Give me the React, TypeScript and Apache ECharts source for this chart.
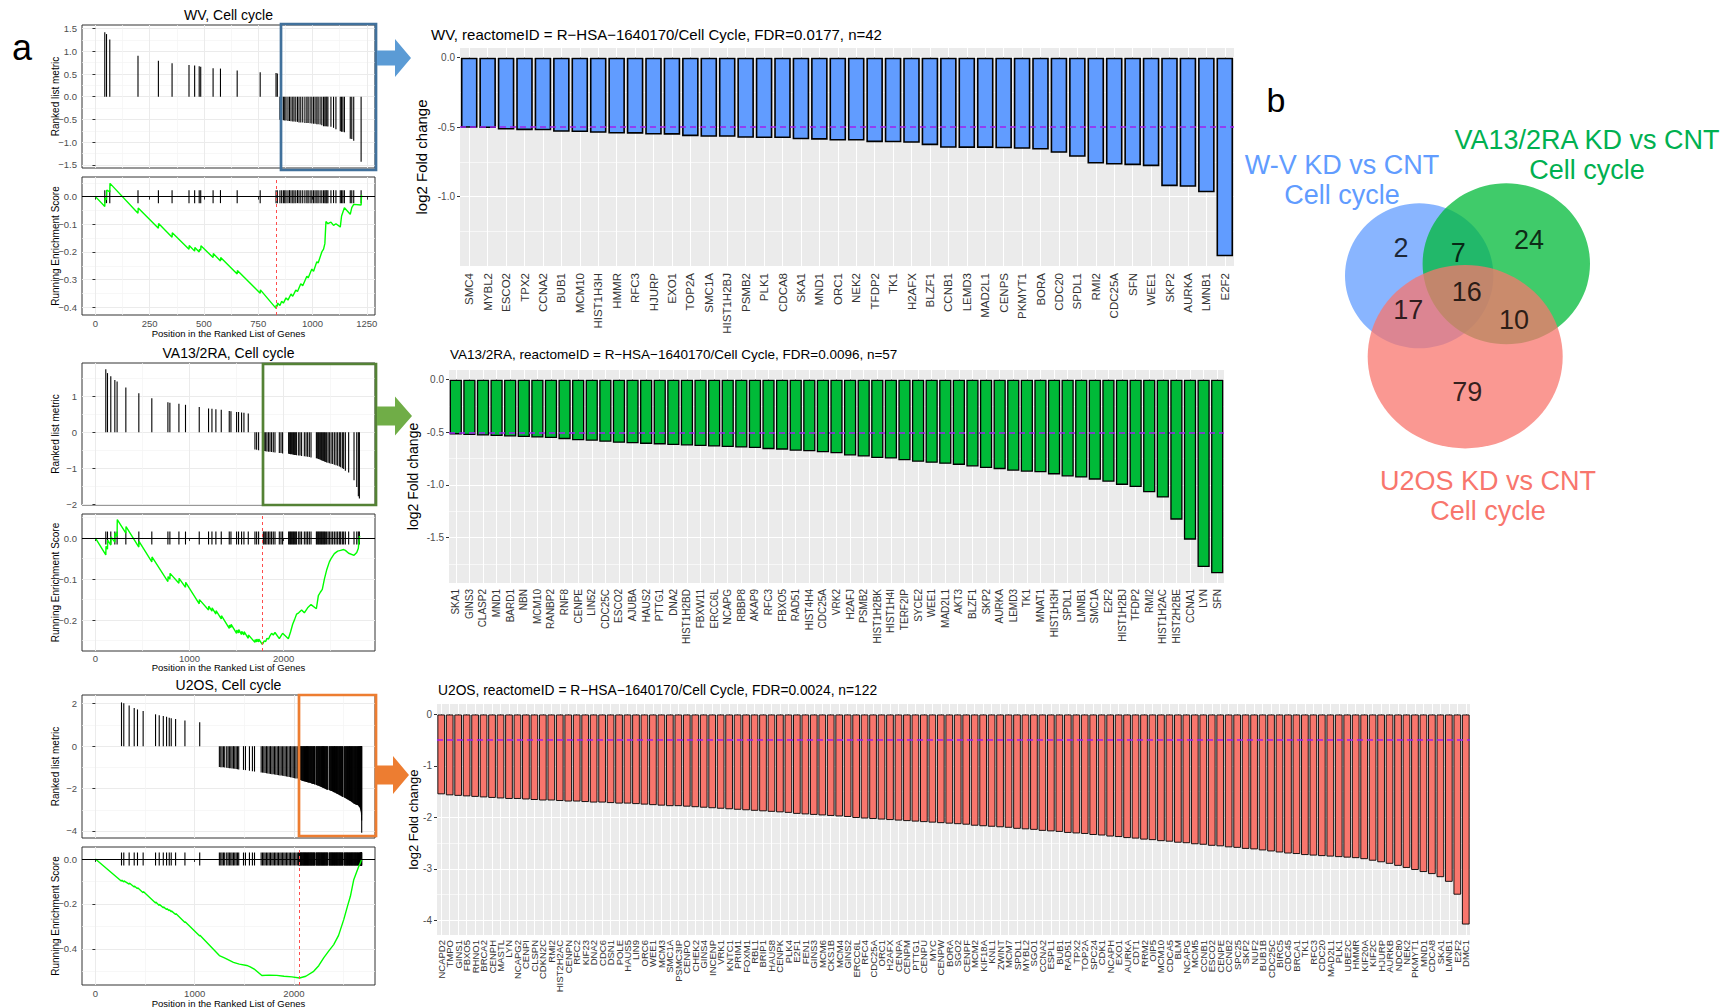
import React, { useEffect, useRef } from "react";
import * as echarts from "echarts";

const FONT = "'Liberation Sans', Arial, Helvetica, sans-serif";

// ================= Bar chart data =================
const WV_TITLE = "WV, reactomeID = R\u2212HSA\u22121640170/Cell Cycle, FDR=0.0177, n=42";
const VA_TITLE = "VA13/2RA, reactomeID = R\u2212HSA\u22121640170/Cell Cycle, FDR=0.0096, n=57";
const U2_TITLE = "U2OS, reactomeID = R\u2212HSA\u22121640170/Cell Cycle, FDR=0.0024, n=122";

const WV_GENES = ["SMC4","MYBL2","ESCO2","TPX2","CCNA2","BUB1","MCM10","HIST1H3H","HMMR","RFC3","HJURP","EXO1","TOP2A","SMC1A","HIST1H2BJ","PSMB2","PLK1","CDCA8","SKA1","MND1","ORC1","NEK2","TFDP2","TK1","H2AFX","BLZF1","CCNB1","LEMD3","MAD2L1","CENPS","PKMYT1","BORA","CDC20","SPDL1","RMI2","CDC25A","SFN","WEE1","SKP2","AURKA","LMNB1","E2F2"];
const WV_LFC = [-0.505,-0.507,-0.517,-0.522,-0.523,-0.534,-0.535,-0.541,-0.546,-0.547,-0.553,-0.554,-0.565,-0.569,-0.57,-0.577,-0.578,-0.578,-0.587,-0.59,-0.596,-0.597,-0.608,-0.609,-0.613,-0.63,-0.649,-0.65,-0.65,-0.652,-0.656,-0.661,-0.685,-0.714,-0.762,-0.769,-0.774,-0.781,-0.925,-0.93,-0.969,-1.43];

const VA_GENES = ["SKA1","GINS3","CLASP2","MND1","BARD1","NBN","MCM10","RANBP2","RNF8","CENPE","LIN52","CDC25C","ESCO2","AJUBA","HAUS2","PTTG1","DNA2","HIST1H2BD","FBXW11","ERCC6L","NCAPG","RBBP8","AKAP9","RFC3","FBXO5","RAD51","HIST4H4","CDC25A","VRK2","H2AFJ","PSMB2","HIST1H2BK","HIST1H4I","TERF2IP","SYCE2","WEE1","MAD2L1","AKT3","BLZF1","SKP2","AURKA","LEMD3","TK1","MNAT1","HIST1H3H","SPDL1","LMNB1","SMC1A","E2F2","HIST1H2BJ","TFDP2","RMI2","HIST1H2AC","HIST2H2BE","CCNA1","LYN","SFN"];
const VA_LFC = [-0.52,-0.525,-0.53,-0.535,-0.54,-0.545,-0.55,-0.555,-0.565,-0.575,-0.58,-0.59,-0.6,-0.605,-0.61,-0.615,-0.62,-0.625,-0.63,-0.635,-0.64,-0.645,-0.65,-0.66,-0.665,-0.675,-0.68,-0.69,-0.7,-0.72,-0.73,-0.745,-0.75,-0.765,-0.78,-0.79,-0.8,-0.81,-0.825,-0.84,-0.85,-0.865,-0.875,-0.88,-0.9,-0.92,-0.93,-0.95,-0.97,-1.0,-1.02,-1.07,-1.12,-1.33,-1.52,-1.78,-1.84];

const U2_GENES = ["NCAPD2","TMPO","GINS1","FBXO5","RHNO1","BRCA2","CENPH","MASTL","LYN","NCAPG2","CENPI","CLSPN","CDKN2C","RMI2","HIST2H2AC","CENPN","RFC2","KIF23","DNA2","CDC6","DSN1","POLE","HAUS5","LIN9","ORC6","WEE1","MCM3","SMC1A","PSMC3IP","CENPO","CHEK2","GINS4","INCENP","VRK1","KNTC1","PRIM1","FOXM1","RBL1","BRIP1","HAUS8","CENPK","PLK4","E2F1","FEN1","GINS3","MCM6","CKS1B","MCM4","GINS2","ERCC6L","RFC4","CDC25A","ORC1","H2AFX","CENPA","CENPM","PTTG1","CENPU","MYC","CENPW","BORA","SGO2","CENPF","MCM2","KIF18A","KNL1","ZWINT","MCM7","SPDL1","MYBL2","SGO1","CCNA2","ESPL1","BUB1","RAD51","TPX2","TOP2A","SPC24","CDK1","NCAPH","EXO1","AURKA","CDT1","RRM2","OIP5","MCM10","CDCA5","BLM","NCAPG","MCM5","CCNB1","ESCO2","CENPE","CCNB2","SPC25","SKP2","NUF2","BUB1B","CDC25C","BIRC5","CDC45","BRCA1","TK1","RFC3","CDC20","MAD2L1","PLK1","UBE2C","HMMR","KIF20A","KIF2C","HJURP","AURKB","NDC80","NEK2","PKMYT1","MND1","CDCA8","SKA1","LMNB1","E2F2","DMC1"];
const U2_LFC = [-1.55,-1.57,-1.58,-1.59,-1.6,-1.61,-1.62,-1.63,-1.64,-1.64,
-1.65,-1.66,-1.67,-1.67,-1.68,-1.69,-1.69,-1.7,-1.71,-1.71,
-1.72,-1.73,-1.73,-1.74,-1.75,-1.76,-1.77,-1.78,-1.78,-1.79,
-1.8,-1.81,-1.82,-1.83,-1.84,-1.85,-1.86,-1.87,-1.88,-1.89,
-1.9,-1.91,-1.93,-1.94,-1.95,-1.96,-1.97,-1.98,-1.99,-2.01,
-2.02,-2.03,-2.04,-2.05,-2.06,-2.07,-2.08,-2.09,-2.1,-2.11,
-2.12,-2.13,-2.14,-2.16,-2.17,-2.18,-2.19,-2.2,-2.22,-2.23,
-2.24,-2.26,-2.27,-2.28,-2.3,-2.31,-2.32,-2.34,-2.35,-2.37,
-2.38,-2.4,-2.41,-2.43,-2.44,-2.46,-2.47,-2.49,-2.5,-2.52,
-2.53,-2.55,-2.56,-2.58,-2.59,-2.61,-2.62,-2.64,-2.66,-2.68,
-2.7,-2.71,-2.73,-2.74,-2.75,-2.76,-2.77,-2.78,-2.79,-2.81,
-2.84,-2.87,-2.9,-2.94,-2.98,-3.02,-3.06,-3.1,-3.16,-3.25,
-3.5,-4.08];

// ================= GSEA data (positions in ranked list, metric) =================
const WV_UP_POS = [43,51,66,196,290,353,431,457,478,485,542,576,653,759,832,838];
const WV_UP_METRIC = [1.42,1.38,1.26,0.9,0.79,0.74,0.7,0.69,0.67,0.66,0.63,0.62,0.58,0.54,0.52,0.51];
const WV_DOWN_POS = [850,858,866,872,878,887,894,901,909,915,923,931,938,946,955,965,974,980,989,997,1005,1012,1020,1026,1035,1043,1051,1057,1062,1066,1071,1085,1097,1108,1128,1134,1140,1147,1174,1181,1190,1224];
const WV_ES = [[0,0],[43,-0.036],[44,-0.005],[51,-0.011],[52,0.024],[66,0.017],[67,0.048],[196,-0.06],[197,-0.041],[290,-0.114],[291,-0.097],[353,-0.147],[354,-0.131],[431,-0.19],[432,-0.177],[457,-0.197],[458,-0.184],[478,-0.2],[479,-0.19],[485,-0.194],[486,-0.178],[542,-0.22],[543,-0.206],[576,-0.233],[577,-0.22],[653,-0.28],[654,-0.267],[759,-0.349],[760,-0.337],[832,-0.404],[833,-0.392],[838,-0.397],[839,-0.385],[850,-0.394],[858,-0.378],[866,-0.385],[878,-0.366],[887,-0.374],[901,-0.352],[909,-0.36],[923,-0.338],[931,-0.343],[946,-0.315],[955,-0.322],[974,-0.288],[980,-0.294],[997,-0.262],[1005,-0.27],[1020,-0.235],[1026,-0.24],[1043,-0.2],[1051,-0.19],[1057,-0.17],[1062,-0.09],[1071,-0.098],[1085,-0.092],[1097,-0.104],[1108,-0.098],[1128,-0.11],[1134,-0.07],[1147,-0.04],[1174,-0.064],[1181,-0.04],[1190,-0.028],[1224,-0.03],[1226,0.006]];

const VA_UP_POS = [110,128,163,206,230,323,461,599,770,791,887,957,1103,1202,1238,1280,1337,1422,1440,1500,1521,1553,1578,1624];
const VA_UP_METRIC = [1.75,1.64,1.55,1.45,1.41,1.24,1.08,0.94,0.83,0.82,0.79,0.76,0.7,0.66,0.65,0.64,0.62,0.59,0.58,0.56,0.56,0.55,0.54,0.52];
const VA_MID_POS = [1695,1713,1734];
const VA_MID_METRIC = [-0.48,-0.49,-0.5];
const VA_DOWN_POS = [1784,1794,1809,1823,1840,1855,1872,1890,1908,1954,1972,1989,2053,2064,2074,2085,2096,2106,2117,2128,2138,2160,2174,2191,2220,2238,2255,2273,2291,2348,2358,2369,2379,2390,2401,2411,2422,2433,2443,2457,2472,2486,2504,2521,2539,2557,2574,2592,2606,2624,2638,2656,2691,2748,2777,2794,2805];
const VA_ES = [[0,0],[110,-0.041],[112,-0.02],[128,-0.027],[130,-0.005],[163,-0.017],[165,0.003],[206,-0.01],[208,0.012],[230,0.004],[232,0.045],[323,0.012],[325,0.028],[461,-0.022],[463,-0.008],[599,-0.058],[601,-0.046],[770,-0.106],[772,-0.094],[791,-0.1],[793,-0.086],[887,-0.11],[889,-0.098],[957,-0.12],[959,-0.108],[1103,-0.16],[1105,-0.15],[1202,-0.175],[1204,-0.166],[1238,-0.178],[1240,-0.17],[1280,-0.185],[1282,-0.177],[1337,-0.197],[1339,-0.189],[1422,-0.22],[1424,-0.212],[1440,-0.218],[1442,-0.21],[1500,-0.232],[1502,-0.224],[1521,-0.231],[1523,-0.223],[1553,-0.235],[1555,-0.227],[1578,-0.236],[1580,-0.228],[1624,-0.244],[1626,-0.236],[1695,-0.254],[1697,-0.247],[1713,-0.253],[1715,-0.246],[1734,-0.253],[1736,-0.246],[1773,-0.259],[1784,-0.255],[1794,-0.25],[1809,-0.252],[1823,-0.244],[1840,-0.246],[1855,-0.238],[1872,-0.232],[1890,-0.236],[1908,-0.23],[1954,-0.245],[1972,-0.238],[1989,-0.232],[2050,-0.245],[2074,-0.228],[2096,-0.21],[2117,-0.198],[2138,-0.185],[2160,-0.182],[2191,-0.175],[2220,-0.182],[2255,-0.17],[2291,-0.162],[2348,-0.172],[2369,-0.14],[2390,-0.132],[2411,-0.125],[2433,-0.1],[2457,-0.078],[2486,-0.058],[2504,-0.05],[2539,-0.038],[2574,-0.032],[2606,-0.03],[2638,-0.028],[2656,-0.03],[2691,-0.037],[2748,-0.042],[2777,-0.035],[2794,-0.025],[2805,0.004],[2812,0.002]];

const U2_UP_POS = [263,286,340,391,424,481,606,643,684,717,744,764,808,902,1051];
const U2_UP_METRIC = [2.06,2.02,1.91,1.8,1.73,1.65,1.5,1.46,1.42,1.39,1.34,1.32,1.28,1.21,1.13];
const U2_MID_POS = [1249,1263,1276,1290,1303,1323,1337,1350,1364,1377,1391,1404,1418,1431,1444,1492,1512,1552,1582,1603,1670,1684,1697,1710,1724,1737,1751,1764,1778,1791,1805,1818,1832,1845,1859,1872,1886,1899,1912,1926,1939,1953,1966,1980,1993,2007,2020,2034];
const U2_MID_METRIC = [-0.98,-0.99,-1.0,-1.0,-1.01,-1.02,-1.03,-1.04,-1.04,-1.05,-1.06,-1.07,-1.08,-1.09,-1.1,-1.12,-1.13,-1.16,-1.18,-1.2,-1.24,-1.25,-1.26,-1.27,-1.28,-1.29,-1.3,-1.31,-1.32,-1.33,-1.34,-1.35,-1.36,-1.37,-1.38,-1.39,-1.4,-1.41,-1.42,-1.43,-1.44,-1.46,-1.47,-1.48,-1.5,-1.51,-1.52,-1.53];
const U2_DOWN_POS = [2047,2052,2058,2063,2068,2074,2079,2084,2090,2095,
2100,2106,2111,2116,2121,2127,2132,2137,2143,2148,
2153,2159,2164,2169,2175,2180,2185,2191,2196,2201,
2207,2212,2224,2229,2234,2240,2245,2250,2256,2261,
2266,2272,2277,2282,2288,2293,2298,2304,2309,2314,
2320,2325,2330,2336,2341,2356,2361,2366,2372,2377,
2382,2388,2393,2398,2404,2409,2414,2420,2425,2430,
2436,2441,2446,2452,2457,2462,2468,2473,2478,2484,
2489,2494,2507,2512,2517,2523,2528,2533,2539,2544,
2549,2555,2560,2565,2571,2576,2581,2587,2592,2597,
2603,2608,2613,2619,2624,2629,2635,2640,2645,2651,
2656,2661,2666,2670,2673,2676,2678,2679,2680,2681,
2682,2683];
const U2_ES = [[0,0],[263,-0.099],[265,-0.094],[286,-0.102],[288,-0.097],[340,-0.112],[342,-0.107],[391,-0.125],[393,-0.12],[424,-0.132],[426,-0.128],[481,-0.15],[483,-0.145],[606,-0.196],[608,-0.191],[643,-0.207],[645,-0.202],[684,-0.217],[686,-0.213],[717,-0.225],[719,-0.221],[744,-0.23],[746,-0.226],[764,-0.235],[766,-0.231],[808,-0.247],[810,-0.243],[902,-0.283],[904,-0.279],[1051,-0.343],[1053,-0.339],[1249,-0.43],[1300,-0.44],[1391,-0.46],[1450,-0.468],[1525,-0.474],[1560,-0.48],[1600,-0.49],[1677,-0.519],[1750,-0.517],[1828,-0.518],[1900,-0.522],[1980,-0.525],[2057,-0.53],[2120,-0.522],[2199,-0.5],[2250,-0.475],[2300,-0.44],[2350,-0.41],[2401,-0.381],[2450,-0.34],[2502,-0.27],[2540,-0.21],[2569,-0.166],[2603,-0.092],[2630,-0.06],[2653,-0.033],[2672,-0.015],[2683,0.0]];

// ================= Venn data =================
const VENN_SETS = ["W-V KD vs CNT\nCell cycle", "VA13/2RA KD vs CNT\nCell cycle", "U2OS KD vs CNT\nCell cycle"];
const VENN_REGIONS = ["W-V only", "W-V & VA13/2RA", "VA13/2RA only", "all three", "W-V & U2OS", "VA13/2RA & U2OS", "U2OS only"];
const VENN_COUNTS = [2, 7, 24, 16, 17, 10, 79];

// layout (not data): circle centres/radii and region label anchors inside the Venn box
const VENN_CIRCLE_LAYOUT = [
  { cx: 189.2, cy: 215.8, w: 148.4, h: 145, color: "#619CFF" },
  { cx: 276.3, cy: 203.8, w: 167.4, h: 161, color: "#00BA38" },
  { cx: 235.2, cy: 296.7, w: 195, h: 183.4, color: "#F8766D" },
];
const VENN_LABEL_LAYOUT = [[171, 188.3], [228.3, 193.3], [299, 180], [236.7, 231.7], [178.3, 250], [284, 260], [237.3, 331.7]];

function zip(a: number[], b: number[]) { return a.map((v, i) => [v, b[i]]); }

function buildOption(): any {
  const grid: any[] = [];
  const xAxis: any[] = [];
  const yAxis: any[] = [];
  const series: any[] = [];
  const graphic: any[] = [];
  const addGrid = (g: any) => { grid.push({ containLabel: false, outerBoundsMode: "none", ...g }); return grid.length - 1; };
  const addX = (a: any) => { xAxis.push(a); return xAxis.length - 1; };
  const addY = (a: any) => { yAxis.push(a); return yAxis.length - 1; };
  const minus = (s: string) => s.replace("-", "\u2212");

  const lineAxis = (gi: number, min: number, max: number, vals: number[], color: string, width: number, position: string) => ({
    type: "value", gridIndex: gi, min, max, position, silent: true,
    axisLine: { show: false }, axisLabel: { show: false },
    axisTick: { show: false, customValues: vals },
    splitLine: { show: true, lineStyle: { color, width } },
  });

  const text = (x: number, y: number, t: string, size: number, color: string, align = "center", lineHeight?: number) => ({
    type: "text", x, y, z: 60, silent: true,
    style: { text: t, fontSize: size, fontFamily: FONT, fill: color, align, textAlign: align, verticalAlign: "middle", textVerticalAlign: "middle", lineHeight },
  });

  const segRender = (params: any, api: any) => {
    const p0 = api.coord([api.value(0), 0]);
    const p1 = api.coord([api.value(0), api.value(1)]);
    return { type: "line", shape: { x1: p0[0], y1: p0[1], x2: p1[0], y2: p1[1] }, style: { stroke: "#000", lineWidth: 1.1 } };
  };
  const tickRender = (params: any, api: any) => {
    const p0 = api.coord([api.value(0), 0]);
    return { type: "line", shape: { x1: p0[0], y1: p0[1] - 6.5, x2: p0[0], y2: p0[1] + 6.5 }, style: { stroke: "#000", lineWidth: 1.1 } };
  };

  const axLbl = { fontSize: 9.5, color: "#4D4D4D", fontFamily: FONT };
  const axTick = { show: true, length: 3, lineStyle: { color: "#333", width: 1 } };
  const gridLine = { show: true, lineStyle: { color: "#EBEBEB", width: 1 } };

  function gsea(p: any) {
    const L = 82, W = 293;
    const gT = addGrid({ left: L, top: p.tTop, width: W, height: p.tH, show: true, backgroundColor: "#fff", borderColor: "#333", borderWidth: 1 });
    const gB = addGrid({ left: L, top: p.bTop, width: W, height: p.bH, show: true, backgroundColor: "#fff", borderColor: "#333", borderWidth: 1 });
    const xT = addX({ type: "value", gridIndex: gT, min: p.xMin, max: p.xMax, position: "bottom", axisLine: { show: false }, axisLabel: { show: false }, axisTick: { show: false, customValues: p.xMaj }, splitLine: gridLine });
    addX(lineAxis(gT, p.xMin, p.xMax, p.xMinor, "#F4F4F4", 0.7, "top"));
    const yT = addY({
      type: "value", gridIndex: gT, min: p.mMin, max: p.mMax, position: "left", axisLine: { show: false },
      axisTick: { ...axTick, customValues: p.mMaj },
      axisLabel: { ...axLbl, customValues: p.mMaj, margin: 5, formatter: (v: number) => minus(p.mFmt(v)) },
      splitLine: gridLine,
      name: "Ranked list metric", nameLocation: "middle", nameRotate: 90, nameGap: 22, nameMoveOverlap: false,
      nameTextStyle: { fontSize: 10, color: "#000", fontFamily: FONT },
    });
    addY(lineAxis(gT, p.mMin, p.mMax, p.mMinor, "#F4F4F4", 0.7, "right"));
    const xB = addX({
      type: "value", gridIndex: gB, min: p.xMin, max: p.xMax, position: "bottom", axisLine: { show: false },
      axisTick: { ...axTick, customValues: p.xMaj },
      axisLabel: { ...axLbl, customValues: p.xMaj, margin: p.xMargin, formatter: (v: number) => String(v) },
      splitLine: gridLine,
      name: "Position in the Ranked List of Genes", nameLocation: "middle", nameGap: p.xNameGap, nameMoveOverlap: false,
      nameTextStyle: { fontSize: 9.5, color: "#000", fontFamily: FONT },
    });
    addX(lineAxis(gB, p.xMin, p.xMax, p.xMinor, "#F4F4F4", 0.7, "top"));
    const yB = addY({
      type: "value", gridIndex: gB, min: p.eMin, max: p.eMax, position: "left", axisLine: { show: false },
      axisTick: { ...axTick, customValues: p.eMaj },
      axisLabel: { ...axLbl, customValues: p.eMaj, margin: 5, formatter: (v: number) => minus(v.toFixed(1)) },
      splitLine: gridLine,
      name: "Running Enrichment Score", nameLocation: "middle", nameRotate: 90, nameGap: 22, nameMoveOverlap: false,
      nameTextStyle: { fontSize: 10, color: "#000", fontFamily: FONT },
    });
    addY(lineAxis(gB, p.eMin, p.eMax, p.eMinor, "#F4F4F4", 0.7, "right"));

    series.push({ type: "custom", xAxisIndex: xT, yAxisIndex: yT, silent: true, data: p.hits, renderItem: segRender, z: 3 });
    series.push({ type: "custom", xAxisIndex: xB, yAxisIndex: yB, silent: true, data: p.hits.map((h: number[]) => [h[0], 0]), renderItem: tickRender, z: 3 });
    const minPt = p.es.reduce((a: number[], b: number[]) => (b[1] < a[1] ? b : a));
    series.push({
      type: "line", xAxisIndex: xB, yAxisIndex: yB, data: p.es, showSymbol: false, symbol: "none", silent: true, z: 4,
      lineStyle: { color: "#00FF00", width: 1.4 },
      markLine: {
        silent: true, symbol: ["none", "none"], label: { show: false },
        data: [
          { yAxis: 0, lineStyle: { color: "#000", type: "solid", width: 1.1 } },
          { xAxis: minPt[0], lineStyle: { color: "#FF4D4D", type: [3, 3], width: 1 } },
        ],
      },
    });
    graphic.push(text(L + W / 2, p.titleY, p.title, 14, "#000"));
  }

  gsea({
    title: "WV, Cell cycle", titleY: 15, tTop: 25, tH: 143, bTop: 177, bH: 138,
    xMin: -62, xMax: 1288, xMaj: [0, 250, 500, 750, 1000, 1250], xMinor: [125, 375, 625, 875, 1125],
    mMin: -1.57, mMax: 1.58, mMaj: [-1.5, -1, -0.5, 0, 0.5, 1, 1.5], mMinor: [-1.25, -0.75, -0.25, 0.25, 0.75, 1.25], mFmt: (v: number) => v.toFixed(1),
    eMin: -0.428, eMax: 0.071, eMaj: [-0.4, -0.3, -0.2, -0.1, 0], eMinor: [-0.35, -0.25, -0.15, -0.05, 0.05],
    xMargin: 3, xNameGap: 13,
    hits: [...zip(WV_UP_POS, WV_UP_METRIC), ...zip(WV_DOWN_POS, WV_LFC)], es: WV_ES,
  });
  gsea({
    title: "VA13/2RA, Cell cycle", titleY: 353, tTop: 363, tH: 142, bTop: 514, bH: 137,
    xMin: -143, xMax: 2971, xMaj: [0, 1000, 2000], xMinor: [500, 1500, 2500],
    mMin: -2.02, mMax: 1.92, mMaj: [-2, -1, 0, 1], mMinor: [-1.5, -0.5, 0.5, 1.5], mFmt: (v: number) => String(v),
    eMin: -0.275, eMax: 0.0585, eMaj: [-0.2, -0.1, 0], eMinor: [-0.25, -0.15, -0.05, 0.05],
    xMargin: 2, xNameGap: 11.5,
    hits: [...zip(VA_UP_POS, VA_UP_METRIC), ...zip(VA_MID_POS, VA_MID_METRIC), ...zip(VA_DOWN_POS, VA_LFC)], es: VA_ES,
  });
  gsea({
    title: "U2OS, Cell cycle", titleY: 685, tTop: 695, tH: 143, bTop: 847, bH: 138,
    xMin: -135, xMax: 2817, xMaj: [0, 1000, 2000], xMinor: [500, 1500, 2500],
    mMin: -4.33, mMax: 2.41, mMaj: [-4, -2, 0, 2], mMinor: [-3, -1, 1], mFmt: (v: number) => String(v),
    eMin: -0.561, eMax: 0.0535, eMaj: [-0.4, -0.2, 0], eMinor: [-0.5, -0.3, -0.1],
    xMargin: 3, xNameGap: 13,
    hits: [...zip(U2_UP_POS, U2_UP_METRIC), ...zip(U2_MID_POS, U2_MID_METRIC), ...zip(U2_DOWN_POS, U2_LFC)], es: U2_ES,
  });

  function bars(p: any) {
    const g = addGrid({ left: p.left, top: p.top, width: p.width, height: p.height, show: true, backgroundColor: "#EBEBEB", borderWidth: 0 });
    const xi = addX({
      type: "category", gridIndex: g, data: p.genes, position: "bottom", axisLine: { show: false },
      axisTick: { show: true, alignWithLabel: true, interval: 0, length: 3, lineStyle: { color: "#333" } },
      axisLabel: { interval: 0, rotate: 90, fontSize: p.labelSize, color: "#333", margin: p.labelMargin, fontFamily: FONT, hideOverlap: false },
      splitLine: { show: true, interval: 0, alignWithLabel: true, lineStyle: { color: "#fff", width: 1 } },
    });
    const yi = addY({
      type: "value", gridIndex: g, min: p.yMin, max: p.yMax, position: "left", axisLine: { show: false },
      axisTick: { show: true, length: 3, customValues: p.yMaj, lineStyle: { color: "#333" } },
      axisLabel: { customValues: p.yMaj, formatter: p.yFmt, fontSize: 10, color: "#4D4D4D", margin: 5, fontFamily: FONT },
      splitLine: { show: true, lineStyle: { color: "#fff", width: 1.2 } },
      name: "log2 Fold change", nameLocation: "middle", nameRotate: 90, nameGap: p.nameGap, nameMoveOverlap: false,
      nameTextStyle: { fontSize: p.nameSize, color: "#000", fontFamily: FONT },
    });
    addY(lineAxis(g, p.yMin, p.yMax, p.yMinor, "#fff", 0.6, "right"));
    series.push({
      type: "bar", xAxisIndex: xi, yAxisIndex: yi, data: p.values, barCategoryGap: "10%", silent: true,
      itemStyle: { color: p.color, borderColor: "#000", borderWidth: p.border },
      markLine: {
        silent: true, symbol: ["none", "none"], label: { show: false },
        lineStyle: { color: "#A020F0", type: [6, 4], width: 1.5 },
        data: [{ yAxis: -0.5 }],
      },
    });
    graphic.push(text(p.titleX, p.titleY, p.title, p.titleSize, "#000", "left"));
  }

  bars({
    title: WV_TITLE, titleX: 431, titleY: 34, titleSize: 15, genes: WV_GENES, values: WV_LFC, color: "#619CFF", border: 1.6,
    left: 460, top: 48, width: 774, height: 218, yMin: -1.5, yMax: 0.07,
    yMaj: [-1, -0.5, 0], yMinor: [-1.25, -0.75, -0.25], yFmt: (v: number) => v.toFixed(1),
    labelSize: 11.5, labelMargin: 7, nameGap: 31, nameSize: 15,
  });
  bars({
    title: VA_TITLE, titleX: 450, titleY: 354, titleSize: 13.5, genes: VA_GENES, values: VA_LFC, color: "#00BA38", border: 1.3,
    left: 449, top: 370, width: 775, height: 213, yMin: -1.932, yMax: 0.092,
    yMaj: [-1.5, -1, -0.5, 0], yMinor: [-1.75, -1.25, -0.75, -0.25], yFmt: (v: number) => v.toFixed(1),
    labelSize: 10, labelMargin: 6, nameGap: 29, nameSize: 14,
  });
  bars({
    title: U2_TITLE, titleX: 438, titleY: 690, titleSize: 13.8, genes: U2_GENES, values: U2_LFC, color: "#F8766D", border: 0.9,
    left: 437, top: 704, width: 1033, height: 231, yMin: -4.284, yMax: 0.204,
    yMaj: [-4, -3, -2, -1, 0], yMinor: [-3.5, -2.5, -1.5, -0.5], yFmt: (v: number) => String(v),
    labelSize: 9.5, labelMargin: 5, nameGap: 17, nameSize: 13,
  });

  // ---- Venn diagram ----
  const gv = addGrid({ left: 1230, top: 60, width: 496, height: 480, show: false });
  const vx = addX({ type: "value", gridIndex: gv, min: 0, max: 496, show: false });
  const vy = addY({ type: "value", gridIndex: gv, min: 0, max: 480, inverse: true, show: false });
  series.push({
    type: "scatter", xAxisIndex: vx, yAxisIndex: vy, silent: true, z: 3,
    data: VENN_SETS.map((s, i) => ({
      name: s, value: [VENN_CIRCLE_LAYOUT[i].cx, VENN_CIRCLE_LAYOUT[i].cy],
      symbolSize: [VENN_CIRCLE_LAYOUT[i].w, VENN_CIRCLE_LAYOUT[i].h],
      itemStyle: { color: VENN_CIRCLE_LAYOUT[i].color, opacity: 0.75 },
    })),
  });
  series.push({
    type: "scatter", xAxisIndex: vx, yAxisIndex: vy, silent: true, z: 5, symbolSize: 2,
    itemStyle: { color: "rgba(0,0,0,0)" },
    label: { show: true, position: "inside", formatter: "{b}", fontSize: 27, color: "#000", fontFamily: FONT },
    data: VENN_COUNTS.map((c, i) => ({ name: String(c), region: VENN_REGIONS[i], value: VENN_LABEL_LAYOUT[i] })),
  });
  graphic.push(text(1342, 180, VENN_SETS[0], 27, "#619CFF", "center", 30));
  graphic.push(text(1587, 155, VENN_SETS[1], 27, "#00B050", "center", 30));
  graphic.push(text(1488, 496, VENN_SETS[2], 27, "#F8766D", "center", 30));

  // ---- panel letters ----
  graphic.push(text(22, 47, "a", 36, "#000"));
  graphic.push(text(1276, 100, "b", 34, "#000"));

  // ---- highlight boxes ----
  const box = (x: number, y: number, w: number, h: number, c: string) => ({
    type: "rect", z: 70, silent: true, shape: { x, y, width: w, height: h }, style: { fill: "none", stroke: c, lineWidth: 2.7 },
  });
  graphic.push(box(281, 24, 95, 146, "#41719C"));
  graphic.push(box(263, 364, 113, 141, "#548235"));
  graphic.push(box(299, 695, 77, 141, "#ED7D31"));

  // ---- arrows ----
  const arrow = (x0: number, xm: number, x1: number, cy: number, sh: number, hh: number, c: string) => ({
    type: "polygon", z: 70, silent: true,
    shape: { points: [[x0, cy - sh], [xm, cy - sh], [xm, cy - hh], [x1, cy], [xm, cy + hh], [xm, cy + sh], [x0, cy + sh]] },
    style: { fill: c },
  });
  graphic.push(arrow(377, 395, 411, 58, 7.5, 19, "#5B9BD5"));
  graphic.push(arrow(377, 395, 412, 416, 9.5, 19.5, "#70AD47"));
  graphic.push(arrow(377, 393, 409, 775, 9.5, 19, "#ED7D31"));

  return {
    animation: false,
    backgroundColor: "#fff",
    textStyle: { fontFamily: FONT },
    grid, xAxis, yAxis, series, graphic,
  };
}

export default function App() {
  const ref = useRef<HTMLDivElement>(null);
  useEffect(() => {
    const el = ref.current;
    if (!el) return;
    const chart = echarts.init(el, undefined, { renderer: "svg", width: 1726, height: 1008 });
    chart.setOption(buildOption());
    return () => chart.dispose();
  }, []);
  return <div ref={ref} style={{ position: "absolute", left: 0, top: 0, width: 1726, height: 1008, background: "#fff" }} />;
}
